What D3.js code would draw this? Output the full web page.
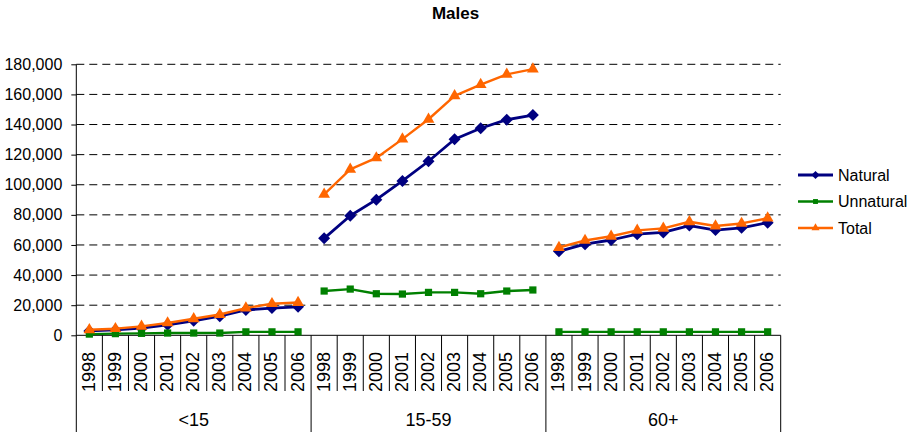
<!DOCTYPE html>
<html>
<head>
<meta charset="utf-8">
<script src="https://cdn.jsdelivr.net/npm/d3@7"></script>
<style>
  html, body { margin: 0; padding: 0; background: #fff; }
  svg { display: block; font-family: "Liberation Sans", Arial, sans-serif; }
</style>
</head>
<body>
<svg id="chart" width="909" height="432"></svg>
<script>
// Age groups and years along the category axis
const groups = ["<15", "15-59", "60+"];
const years = ["1998", "1999", "2000", "2001", "2002", "2003", "2004", "2005", "2006"];

// Deaths of males by age group, one array per group, one value per year
const natural = {
  "<15":   [2900, 3600, 4700, 7000, 9600, 12700, 16800, 18100, 18900],
  "15-59": [64400, 79400, 90100, 102500, 115600, 130200, 137500, 143200, 146300],
  "60+":   [55800, 60500, 63300, 67200, 68300, 72900, 69900, 71400, 74800]
};
const unnatural = {
  "<15":   [800, 1100, 1300, 1500, 1500, 1500, 2300, 2300, 2300],
  "15-59": [29400, 30700, 27600, 27400, 28500, 28500, 27600, 29400, 30100],
  "60+":   [2300, 2300, 2300, 2300, 2300, 2300, 2300, 2300, 2300]
};
const total = {
  "<15":   [3700, 4400, 5900, 8200, 11000, 13800, 18100, 21000, 21800],
  "15-59": [93600, 110200, 117800, 130300, 143500, 159000, 166500, 173300, 176800],
  "60+":   [58300, 63000, 65800, 69700, 71000, 75400, 72600, 74300, 77800]
};

const yTicks = [0, 20000, 40000, 60000, 80000, 100000, 120000, 140000, 160000, 180000];

const seriesNames = ["Natural", "Unnatural", "Total"];
const seriesData = { "Natural": natural, "Unnatural": unnatural, "Total": total };

(function draw() {
  const svg = d3.select("#chart");
  const W = 909, H = 432;
  const mLeft = 76.3, mRight = 780.7, mTop = 64.3, mBottom = 335.3;

  svg.append("rect").attr("width", W).attr("height", H).attr("fill", "#fff");

  // one band per (group, year) pair
  const keys = [];
  groups.forEach(g => years.forEach(yr => keys.push(g + "|" + yr)));
  const x = d3.scaleBand().domain(keys).range([mLeft, mRight]).padding(0);
  const y = d3.scaleLinear().domain([0, 180000]).range([mBottom, mTop]);

  // title
  svg.append("text")
    .attr("x", 455.5).attr("y", 19)
    .attr("text-anchor", "middle")
    .attr("font-size", 17).attr("font-weight", "bold")
    .text("Males");

  // dashed gridlines
  svg.append("g").selectAll("line")
    .data(yTicks.filter(d => d > 0))
    .join("line")
    .attr("x1", mLeft).attr("x2", mRight)
    .attr("y1", d => y(d)).attr("y2", d => y(d))
    .attr("stroke", "#000").attr("stroke-width", 1)
    .attr("stroke-dasharray", "8,5");

  // y axis
  const yAxis = svg.append("g")
    .attr("transform", `translate(${mLeft},0)`)
    .call(d3.axisLeft(y).tickValues(yTicks).tickSize(5).tickPadding(9)
      .tickFormat(d3.format(",")));
  yAxis.select(".domain").remove();
  yAxis.selectAll(".tick line").attr("stroke", "#000");
  yAxis.selectAll("text")
    .attr("font-size", 16).attr("fill", "#000")
    .attr("font-family", "'Liberation Sans', Arial, sans-serif");
  svg.append("line")
    .attr("x1", mLeft).attr("x2", mLeft).attr("y1", mTop).attr("y2", H)
    .attr("stroke", "#000");

  // x axis baseline
  svg.append("line")
    .attr("x1", mLeft).attr("x2", mRight).attr("y1", mBottom).attr("y2", mBottom)
    .attr("stroke", "#000");

  // category separators: short between years, full height between groups
  const step = x.step();
  const sep = svg.append("g");
  for (let i = 1; i <= keys.length; i++) {
    const xx = mLeft + i * step;
    sep.append("line")
      .attr("x1", xx).attr("x2", xx)
      .attr("y1", mBottom).attr("y2", i % years.length === 0 ? H : 391)
      .attr("stroke", "#000");
  }

  // year labels (rotated)
  svg.append("g").selectAll("text")
    .data(keys)
    .join("text")
    .attr("transform", d => `translate(${x(d) + step / 2 + 5.5},392) rotate(-90)`)
    .attr("font-size", 18)
    .text(d => d.split("|")[1]);

  // group labels
  svg.append("g").selectAll("text")
    .data(groups)
    .join("text")
    .attr("x", g => (x(g + "|" + years[0]) + x(g + "|" + years[years.length - 1]) + step) / 2)
    .attr("y", 425.5)
    .attr("text-anchor", "middle")
    .attr("font-size", 18)
    .text(g => g);

  // series styles
  const style = {
    "Natural":   { color: "#000080", width: 2.8, symbol: d3.symbolSquare, size: 72, rot: 45, lsize: 34 },
    "Unnatural": { color: "#008000", width: 2.4, symbol: d3.symbolSquare, size: 52, rot: 0, lsize: 24 },
    "Total":     { color: "#FF6600", width: 2.4, symbol: d3.symbolTriangle, size: 60, rot: 0, lsize: 28 }
  };

  const line = d3.line()
    .x(d => x(d.key) + step / 2)
    .y(d => y(d.v));

  const plot = svg.append("g");
  seriesNames.forEach(name => {
    const st = style[name];
    groups.forEach(g => {
      const pts = seriesData[name][g].map((v, i) => ({ key: g + "|" + years[i], v }));
      plot.append("path")
        .datum(pts)
        .attr("fill", "none")
        .attr("stroke", st.color)
        .attr("stroke-width", st.width)
        .attr("stroke-linejoin", "round")
        .attr("d", line);
      plot.append("g").selectAll("path")
        .data(pts)
        .join("path")
        .attr("transform", d => `translate(${x(d.key) + step / 2},${y(d.v)}) rotate(${st.rot})`)
        .attr("d", d3.symbol(st.symbol, st.size)())
        .attr("fill", st.color);
    });
  });

  // legend
  const legend = svg.append("g");
  seriesNames.forEach((name, i) => {
    const st = style[name];
    const ly = 175 + i * 26.5;
    legend.append("line")
      .attr("x1", 798).attr("x2", 833).attr("y1", ly).attr("y2", ly)
      .attr("stroke", st.color).attr("stroke-width", st.width);
    legend.append("path")
      .attr("transform", `translate(815.5,${ly}) rotate(${st.rot})`)
      .attr("d", d3.symbol(st.symbol, st.lsize)())
      .attr("fill", st.color);
    legend.append("text")
      .attr("x", 838).attr("y", ly).attr("dy", "0.35em")
      .attr("font-size", 16)
      .text(name);
  });
})();
</script>
</body>
</html>
